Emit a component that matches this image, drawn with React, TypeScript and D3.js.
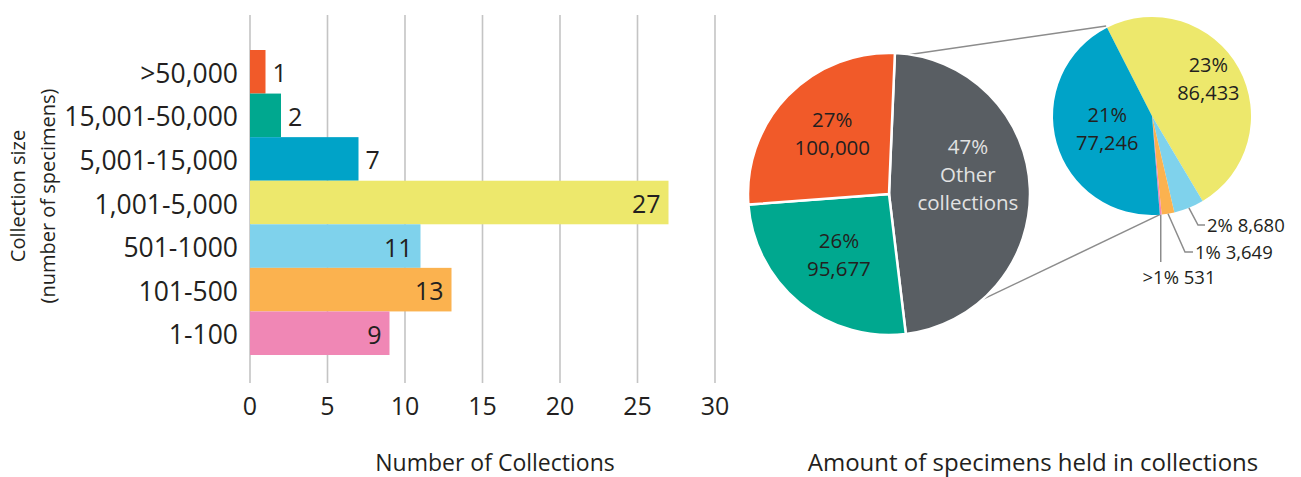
import * as d3 from 'd3';

// bar chart data
const categories = ['>50,000', '15,001-50,000', '5,001-15,000', '1,001-5,000', '501-1000', '101-500', '1-100'];
const counts = [1, 2, 7, 27, 11, 13, 9];
const barColors = ['#f15a29', '#00a88f', '#00a3c8', '#ede86c', '#7fd2ec', '#fbb24f', '#f087b5'];
const xTicks = [0, 5, 10, 15, 20, 25, 30];

// detail (right) pie: size classes below 15,001
const detailValues = [86433, 8680, 3649, 531, 77246];
const detailPct = ['23%', '2%', '1%', '>1%', '21%'];
const detailColors = ['#ede86c', '#7fd2ec', '#fbb24f', '#f087b5', '#00a3c8'];

// main (left) pie
const mainValues = [d3.sum(detailValues), 95677, 100000];
const mainLabels = [['47%', 'Other', 'collections'], ['26%', '95,677'], ['27%', '100,000']];
const mainColors = ['#595e63', '#00a88f', '#f15a29'];
const mainTextColors = ['#e2e2e2', '#231f20', '#231f20'];

const W = 1301;
const H = 477;
const FONT = "'Open Sans', 'Noto Sans', sans-serif";
const INK = '#231f20';
const deg = (a: number) => (a * Math.PI) / 180;
const fmt = d3.format(',');

const pt = (cx: number, cy: number, r: number, a: number): [number, number] =>
  [cx + r * Math.sin(a), cy - r * Math.cos(a)];

export default function App() {
  // ---- bars
  const x = d3.scaleLinear().domain([0, 30]).range([250, 715]);
  const y = d3.scaleBand().domain(categories).range([50, 355]).padding(0);

  // ---- pies
  const p1 = { cx: 889, cy: 194, r: 141 };
  const p2 = { cx: 1152, cy: 116, r: 99 };
  const s1 = deg(2.4);
  const s2 = deg(-27);
  const pie1 = d3.pie<number>().sort(null).startAngle(s1).endAngle(s1 + 2 * Math.PI)(mainValues);
  const pie2 = d3.pie<number>().sort(null).startAngle(s2).endAngle(s2 + 2 * Math.PI)(detailValues);
  const arc1 = d3.arc<d3.PieArcDatum<number>>().innerRadius(0).outerRadius(p1.r);
  const arc2 = d3.arc<d3.PieArcDatum<number>>().innerRadius(0).outerRadius(p2.r);

  // label radius / nudges (layout)
  const lab1R = [0.56, 0.56, 0.56];
  const lab1Dy = [-16, 0, -6];
  const lab2R = [0.65, 0, 0, 0, 0.47];
  const lab2Dy = [-6, 0, 0, 0, 0];

  // connectors between pies
  const c1 = [pt(p1.cx, p1.cy, p1.r, deg(8.5)), pt(p2.cx, p2.cy, p2.r + 2, pie2[0].startAngle)];
  const c2 = [pt(p1.cx, p1.cy, p1.r, deg(138.4)), pt(p2.cx, p2.cy, p2.r, pie2[4].startAngle)];

  // outside leaders for small slices, relative to pie2 centre
  const leaders: Record<number, { ex: number; ey: number; lx: number; anchor: string; ly: number }> = {
    1: { ex: 46, ey: 109, lx: 55, anchor: 'start', ly: 109 },
    2: { ex: 33, ey: 136, lx: 43, anchor: 'start', ly: 136 },
    3: { ex: 9, ey: 146, lx: 27, anchor: 'middle', ly: 161 },
  };

  return (
    <svg width={W} height={H} style={{ position: 'absolute', left: 0, top: 0, background: '#fff' }} fontFamily={FONT}>
      {/* grid */}
      {xTicks.map(t => (
        <line key={t} x1={x(t)} x2={x(t)} y1={15} y2={383} stroke="#c4c4c4" strokeWidth={1.6} />
      ))}
      {/* bars */}
      {categories.map((c, i) => (
        <rect key={c} x={x(0)} y={y(c)} width={x(counts[i]) - x(0)} height={y.bandwidth()} fill={barColors[i]} />
      ))}
      {categories.map((c, i) => {
        const inside = counts[i] >= 9;
        return (
          <text key={c} x={inside ? x(counts[i]) - 8 : x(counts[i]) + 7} y={(y(c) || 0) + y.bandwidth() / 2 + 1.5}
            dy="0.36em" textAnchor={inside ? 'end' : 'start'} fontSize={25} fill={INK}>{counts[i]}</text>
        );
      })}
      {categories.map(c => (
        <text key={c} x={238} y={(y(c) || 0) + y.bandwidth() / 2 + 1.5} dy="0.36em" textAnchor="end" fontSize={26.5} fill={INK}>{c}</text>
      ))}
      {xTicks.map(t => (
        <text key={t} x={x(t)} y={415} textAnchor="middle" fontSize={25} fill={INK}>{t}</text>
      ))}
      <text x={495} y={471} textAnchor="middle" fontSize={23} fill={INK}>Number of Collections</text>
      <text transform="translate(25,196) rotate(-90)" textAnchor="middle" fontSize={20} fill={INK}>Collection size</text>
      <text transform="translate(55,196) rotate(-90)" textAnchor="middle" fontSize={20} fill={INK}>(number of specimens)</text>

      {/* connectors */}
      {[c1, c2].map((c, i) => (
        <line key={i} x1={c[0][0]} y1={c[0][1]} x2={c[1][0]} y2={c[1][1]} stroke="#8c8c8c" strokeWidth={1.5} />
      ))}

      {/* main pie */}
      <g transform={`translate(${p1.cx},${p1.cy})`}>
        {pie1.map((d, i) => (
          <path key={i} d={arc1(d) || ''} fill={mainColors[i]} stroke="#fff" strokeWidth={2.5} />
        ))}
        {pie1.map((d, i) => {
          const a = (d.startAngle + d.endAngle) / 2;
          const [lx, ly] = pt(0, 0, p1.r * lab1R[i], a);
          const lines = mainLabels[i];
          const lh = 28;
          const y0 = ly + lab1Dy[i] - ((lines.length - 1) * lh) / 2;
          return (
            <text key={i} textAnchor="middle" fontSize={20.5} fill={mainTextColors[i]}>
              {lines.map((s, k) => (
                <tspan key={k} x={lx} y={y0 + k * lh} dy="0.36em">{s}</tspan>
              ))}
            </text>
          );
        })}
      </g>

      {/* detail pie */}
      <g transform={`translate(${p2.cx},${p2.cy})`}>
        {pie2.map((d, i) => (
          <path key={i} d={arc2(d) || ''} fill={detailColors[i]} />
        ))}
        {pie2.map((d, i) => {
          const a = (d.startAngle + d.endAngle) / 2;
          const L = leaders[i];
          if (L) {
            const [sx, sy] = pt(0, 0, p2.r, a);
            const path = L.anchor === 'middle'
              ? `M${sx},${sy}L${sx},${L.ey}`
              : `M${sx},${sy}L${L.ex},${L.ey}L${L.lx - 2},${L.ey}`;
            return (
              <g key={i}>
                <path d={path} fill="none" stroke="#8c8c8c" strokeWidth={1.5} />
                <text x={L.lx} y={L.ly} dy="0.36em" textAnchor={L.anchor} fontSize={18.5} fill={INK}>
                  {`${detailPct[i]} ${fmt(detailValues[i])}`}
                </text>
              </g>
            );
          }
          const [lx, ly] = pt(0, 0, p2.r * lab2R[i], a);
          const lh = 28;
          return (
            <text key={i} textAnchor="middle" fontSize={20} fill={INK}>
              <tspan x={lx} y={ly + lab2Dy[i] - lh / 2} dy="0.36em">{detailPct[i]}</tspan>
              <tspan x={lx} y={ly + lab2Dy[i] + lh / 2} dy="0.36em">{fmt(detailValues[i])}</tspan>
            </text>
          );
        })}
      </g>

      <text x={1033} y={471} textAnchor="middle" fontSize={24} fill={INK}>Amount of specimens held in collections</text>
    </svg>
  );
}
